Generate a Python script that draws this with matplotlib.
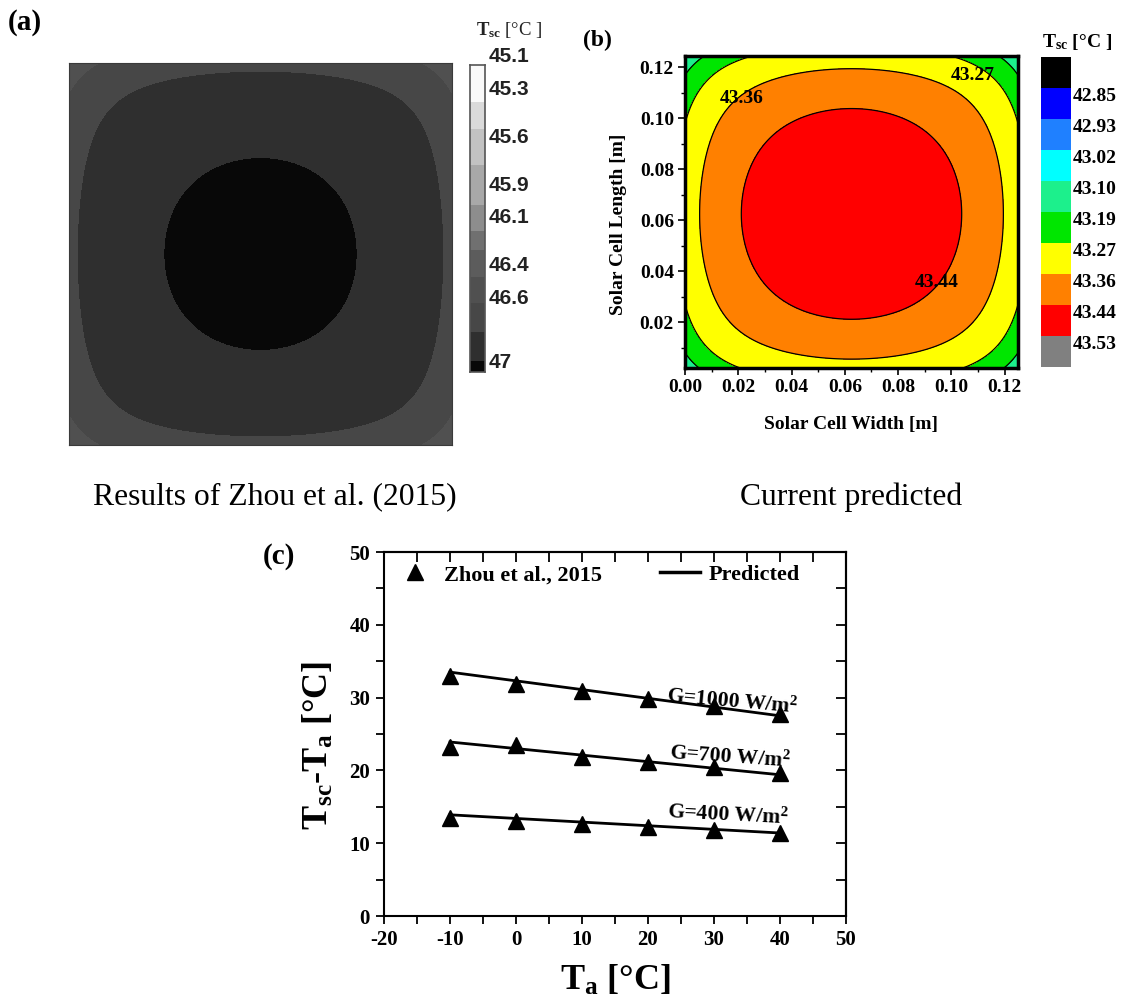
import numpy as np
import matplotlib
matplotlib.use("Agg")
import matplotlib.pyplot as plt
from matplotlib.colors import ListedColormap, BoundaryNorm
from matplotlib.ticker import MultipleLocator, FormatStrFormatter
from matplotlib.lines import Line2D

plt.rcParams['font.family'] = ['Liberation Serif', 'DejaVu Serif']
plt.rcParams['font.weight'] = 'bold'
plt.rcParams['mathtext.fontset'] = 'custom'
plt.rcParams['mathtext.rm'] = 'Liberation Serif:bold'
plt.rcParams['mathtext.bf'] = 'Liberation Serif:bold'
plt.rcParams['mathtext.it'] = 'Liberation Serif:bold'
plt.rcParams['axes.unicode_minus'] = False

# ---------------- data: panel (c) ----------------
ambient_temp = [-10, 0, 10, 20, 30, 40]
zhou_G1000 = [32.9, 31.9, 30.9, 29.8, 28.9, 27.8]
zhou_G700 = [23.2, 23.5, 21.9, 21.2, 20.4, 19.7]
zhou_G400 = [13.5, 13.0, 12.7, 12.2, 11.8, 11.4]
pred_G1000 = [33.5, 32.3, 31.1, 29.9, 28.7, 27.5]
pred_G700 = [23.9, 23.0, 22.1, 21.2, 20.3, 19.4]
pred_G400 = [13.9, 13.4, 12.9, 12.4, 11.9, 11.4]
irradiance_labels = ['G=1000 W/$\\mathbf{m^2}$', 'G=700 W/$\\mathbf{m^2}$', 'G=400 W/$\\mathbf{m^2}$']
c_xticks = [-20, -10, 0, 10, 20, 30, 40, 50]
c_yticks = [0, 10, 20, 30, 40, 50]

# ---------------- data: panel (b) ----------------
b_levels = [42.77, 42.85, 42.93, 43.02, 43.10, 43.19, 43.27, 43.36, 43.44, 43.53, 43.61]
b_colors = ['#000000', '#0000ff', '#1f80ff', '#00ffff', '#1cf08c',
            '#00e600', '#ffff00', '#ff8000', '#ff0000', '#808080']
b_cbar_ticks = [42.85, 42.93, 43.02, 43.10, 43.19, 43.27, 43.36, 43.44, 43.53]
b_contour_labels = ['43.27', '43.36', '43.44']
b_label_xy = [(0.1081, 0.1170), (0.0214, 0.1080), (0.0946, 0.0354)]
b_peak_temp = 43.50       # centre temperature
b_temp_drop = 0.125       # drop towards the edges
b_shape_coef = 0.5        # squareness of outer isotherms
cell_size = 0.125         # m

# ---------------- data: panel (a) ----------------
a_bounds = [45.15, 45.38, 45.55, 45.77, 46.02, 46.18, 46.30, 46.47, 46.63, 46.81, 46.99, 47.06]
a_colors = ['#f9f9f9', '#dadada', '#c2c2c2', '#a8a8a8', '#8d8d8d', '#707070',
            '#5c5c5c', '#505050', '#474747', '#2f2f2f', '#080808']
a_ticks = [45.1, 45.3, 45.6, 45.9, 46.1, 46.4, 46.6, 47]
a_peak_temp = 47.027
a_temp_drop = 0.141
a_shape_coef = 0.85

W, H = 1121, 1005
fig = plt.figure(figsize=(W / 100, H / 100), dpi=100)


def box(l, t, r, b):
    return [l / W, 1 - b / H, (r - l) / W, (b - t) / H]


# ======================= panel (a) =======================
ax_a = fig.add_axes(box(69, 63, 452, 445))
xa = np.linspace(0, cell_size, 400)
Xa, Ya = np.meshgrid(xa, xa)
ua = (Xa - cell_size / 2) / (cell_size / 2)
va = (Ya - cell_size / 2) / (cell_size / 2)
fa = ua ** 2 + va ** 2 + a_shape_coef * (ua ** 6 + va ** 6)
Ta = a_peak_temp - a_temp_drop * fa
cmap_a = ListedColormap(a_colors)
norm_a = BoundaryNorm(a_bounds, cmap_a.N)
ax_a.contourf(Xa, Ya, np.clip(Ta, a_bounds[0], a_bounds[-1] - 1e-6), levels=a_bounds, cmap=cmap_a, norm=norm_a)
ax_a.set_xticks([])
ax_a.set_yticks([])
for s in ax_a.spines.values():
    s.set_color('#3a3a3a')
    s.set_linewidth(0.8)

cax_a = fig.add_axes(box(470, 65, 485, 372))
mids = [(a_bounds[i] + a_bounds[i + 1]) / 2 for i in range(len(a_bounds) - 1)]
cax_a.pcolormesh([0, 1], a_bounds, np.array(mids).reshape(-1, 1), cmap=cmap_a, norm=norm_a)
cax_a.set_ylim(a_bounds[-1], a_bounds[0])
cax_a.set_xlim(0, 1)
cax_a.set_xticks([])
cax_a.set_yticks([])
for s in cax_a.spines.values():
    s.set_color('#555555')
    s.set_linewidth(1.2)
for t in a_ticks:
    lab = ('%g' % t)
    cax_a.text(1.25, t, lab, transform=cax_a.get_yaxis_transform(), ha='left', va='center',
               fontsize=15, fontweight='bold', family=['Liberation Sans', 'DejaVu Sans'],
               color='#222222', clip_on=False)
fig.text(476 / W, 1 - 30 / H, r'$\mathbf{T_{sc}}$ [°C ]', ha='left', va='center', fontsize=13.5,
         fontweight='normal', color='#222222')
fig.text(8 / W, 1 - 22 / H, '(a)', ha='left', va='center', fontsize=21, fontweight='bold')

# ======================= panel (b) =======================
ax_b = fig.add_axes(box(685, 56, 1018, 368))
xb = np.linspace(0, cell_size, 500)
Xb, Yb = np.meshgrid(xb, xb)
ub = (Xb - cell_size / 2) / (cell_size / 2)
vb = (Yb - cell_size / 2) / (cell_size / 2)
fb = ub ** 2 + vb ** 2 + b_shape_coef * (ub ** 6 + vb ** 6)
Tb = b_peak_temp - b_temp_drop * fb
cf = ax_b.contourf(Xb, Yb, Tb, levels=b_levels, colors=b_colors)
ax_b.contour(Xb, Yb, Tb, levels=b_levels, colors='black', linewidths=0.9)
for lab, (lx, ly) in zip(b_contour_labels, b_label_xy):
    ax_b.text(lx, ly, lab, ha='center', va='center', fontsize=14, fontweight='bold')
ax_b.set_xlim(0, cell_size)
ax_b.set_ylim(0.002, 0.1245)
ax_b.xaxis.set_major_locator(MultipleLocator(0.02))
ax_b.yaxis.set_major_locator(MultipleLocator(0.02))
ax_b.xaxis.set_minor_locator(MultipleLocator(0.01))
ax_b.yaxis.set_minor_locator(MultipleLocator(0.01))
ax_b.xaxis.set_major_formatter(FormatStrFormatter('%.2f'))
ax_b.yaxis.set_major_formatter(FormatStrFormatter('%.2f'))
ax_b.set_yticks([0.02, 0.04, 0.06, 0.08, 0.10, 0.12])
ax_b.tick_params(which='major', direction='out', length=5, width=1.2, labelsize=14, pad=3)
ax_b.tick_params(which='minor', direction='out', length=3, width=1.0)
for s in ax_b.spines.values():
    s.set_linewidth(2.5)
ax_b.set_xlabel('Solar Cell Width [m]', fontsize=14, fontweight='bold')
ax_b.set_ylabel('Solar Cell Length [m]', fontsize=14, fontweight='bold')
ax_b.xaxis.set_label_coords(0.5, -0.155)
ax_b.yaxis.set_label_coords(-0.175, 0.46)

cax_b = fig.add_axes(box(1041, 57, 1071, 367))
cb = fig.colorbar(cf, cax=cax_b, ticks=b_cbar_ticks)
cax_b.invert_yaxis()
cb.outline.set_visible(False)
cb.ax.yaxis.set_major_formatter(FormatStrFormatter('%.2f'))
cax_b.tick_params(length=0, labelsize=14, pad=1)
for tl in cax_b.get_yticklabels():
    tl.set_fontweight('bold')
    tl.set_va('top')
fig.text(1042 / W, 1 - 42 / H, r'$\mathbf{T_{sc}}$ [°C ]', ha='left', va='center', fontsize=14,
         fontweight='bold')
fig.text(583 / W, 1 - 40 / H, '(b)', ha='left', va='center', fontsize=17, fontweight='bold')

# captions
fig.text(93 / W, 1 - 497 / H, 'Results of Zhou et al. (2015)', ha='left', va='center',
         fontsize=22.8, fontweight='normal')
fig.text(740 / W, 1 - 497 / H, 'Current predicted', ha='left', va='center',
         fontsize=22.8, fontweight='normal')

# ======================= panel (c) =======================
ax_c = fig.add_axes(box(384, 552, 846, 916))
series = [(zhou_G1000, pred_G1000), (zhou_G700, pred_G700), (zhou_G400, pred_G400)]
for i, (zh, pr) in enumerate(series):
    ax_c.plot(ambient_temp, pr, color='black', lw=2.0, zorder=2)
    ax_c.plot(ambient_temp, zh, linestyle='none', marker='^', ms=11, color='black', zorder=3)
label_pos = [(22.9, 30.2, -5), (23.2, 22.4, -4), (22.9, 14.3, -3)]
for lab, (lx, ly, rot) in zip(irradiance_labels, label_pos):
    ax_c.text(lx, ly, lab, ha='left', va='center', fontsize=15.5, fontweight='bold', rotation=rot,
              rotation_mode='anchor')
ax_c.set_xlim(-20, 50)
ax_c.set_ylim(0, 50)
ax_c.set_xticks(c_xticks)
ax_c.set_yticks(c_yticks)
ax_c.xaxis.set_minor_locator(MultipleLocator(5))
ax_c.yaxis.set_minor_locator(MultipleLocator(5))
ax_c.tick_params(which='both', direction='out', length=6, width=1.3, labelsize=15, pad=4)
for s in ax_c.spines.values():
    s.set_linewidth(1.5)
sx = ax_c.secondary_xaxis('top')
sx.set_xticks(c_xticks)
sx.xaxis.set_minor_locator(MultipleLocator(5))
sx.tick_params(which='both', direction='in', length=7, width=1.3, labeltop=False)
sy = ax_c.secondary_yaxis('right')
sy.set_yticks(c_yticks)
sy.yaxis.set_minor_locator(MultipleLocator(5))
sy.tick_params(which='both', direction='in', length=7, width=1.3, labelright=False)
for ax_ in (sx, sy):
    for s in ax_.spines.values():
        s.set_linewidth(1.5)

handles = [Line2D([], [], linestyle='none', marker='^', ms=11, color='black'),
           Line2D([], [], color='black', lw=2.5)]
ax_c.legend(handles, ['Zhou et al., 2015', 'Predicted'], loc='center left',
            bbox_to_anchor=(0.024, 0.937), ncol=2, frameon=False,
            handlelength=1.8, handletextpad=0.4, columnspacing=2.6, borderaxespad=0,
            borderpad=0, prop={'weight': 'bold', 'size': 16})

ax_c.set_xlabel('$\\mathbf{T_a}$ [°C]', fontsize=26, fontweight='bold')
ax_c.set_ylabel('$\\mathbf{T_{sc}}$-$\\mathbf{T_a}$ [°C]', fontsize=26, fontweight='bold')
ax_c.xaxis.set_label_coords(0.5, -0.13)
ax_c.yaxis.set_label_coords(-0.105, 0.47)
fig.text(263 / W, 1 - 556 / H, '(c)', ha='left', va='center', fontsize=21, fontweight='bold')

fig.savefig('out.png', dpi=100)
